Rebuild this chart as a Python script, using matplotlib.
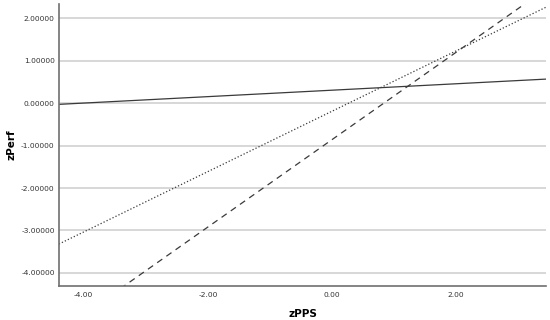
import numpy as np
import matplotlib.pyplot as plt

# fitted lines, read at the plot's left/right edges
x_ends = [-4.40, 3.45]
y_solid = [-0.03, 0.565]
y_dotted = [-3.32, 2.26]
y_dashed = [-5.39, 2.69]

xticks = [-4, -2, 0, 2]
yticks = [-4, -3, -2, -1, 0, 1, 2]

fig = plt.figure(figsize=(5.5, 3.2), dpi=100)
ax = fig.add_axes([0.107, 0.106, 0.886, 0.881])

ax.plot(x_ends, y_solid, '-', color='#3a3a3a', lw=0.9)
ax.plot(x_ends, y_dotted, ':', color='#3a3a3a', lw=0.9)
ax.plot(x_ends, y_dashed, color='#3a3a3a', lw=0.9, dashes=(5, 4))

ax.set_xlim(-4.40, 3.45)
ax.set_ylim(-4.31, 2.33)
ax.set_xticks(xticks)
ax.set_yticks(yticks)
ax.set_xticklabels(['%.2f' % v for v in xticks])
ax.set_yticklabels(['%.5f' % v for v in yticks])
ax.tick_params(length=0, labelsize=5.4, colors='#333333')
ax.tick_params(axis='x', pad=4.5)
ax.tick_params(axis='y', pad=3)
ax.grid(axis='y', color='#d4d4d4', lw=1.3)
ax.set_axisbelow(True)

for s in ['top', 'right']:
    ax.spines[s].set_visible(False)
for s in ['left', 'bottom']:
    ax.spines[s].set_color('#707070')
    ax.spines[s].set_linewidth(1.2)

ax.set_xlabel('zPPS', fontsize=7.5, fontweight='bold', labelpad=8)
ax.set_ylabel('zPerf', fontsize=7.5, fontweight='bold', labelpad=3)

plt.savefig('out.png')
